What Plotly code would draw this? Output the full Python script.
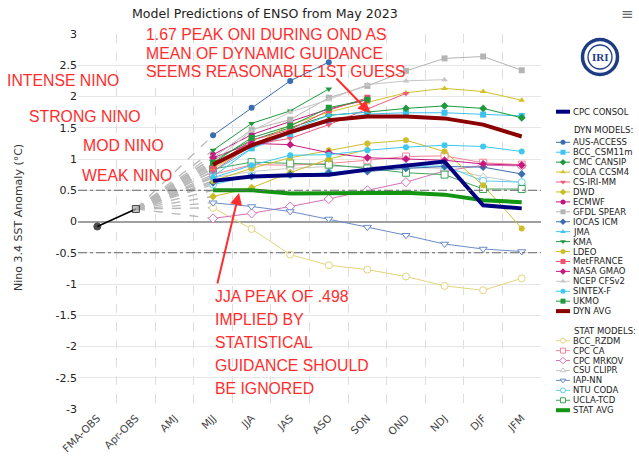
import plotly.graph_objects as go

W, H = 639, 464

# ---------------- data ----------------
categories = ["FMA-OBS", "Apr-OBS", "AMJ", "MJJ", "JJA", "JAS", "ASO", "SON", "OND", "NDJ", "DJF", "JFM"]
fcst_cats = categories[3:]
obs_values = [-0.08, 0.20]
y_ticks = [3, 2.5, 2, 1.5, 1, 0.5, 0, -0.5, -1, -1.5, -2, -2.5, -3]

# dynamical models (MJJ ... JFM)
aus_access = [1.38, 1.82, 2.25, 2.55]
bcc_csm11m = [0.80, 1.17, 1.40, 1.60, 1.72, 1.74, 1.74, 1.71, 1.69]
cmc_cansip = [0.98, 1.30, 1.50, 1.70, 1.75, 1.81, 1.85, 1.81, 1.66]
cola_ccsm4 = [0.85, 1.20, 1.55, 1.75, 1.90, 2.06, 2.13, 2.08, 1.94]
cs_iri_mm = [0.80, 1.23, 1.33, 1.55, 1.80, 2.05]
dwd = [0.40, 0.54, 0.78, 1.00, 1.15]
ecmwf = [1.07, 1.39, 1.60, 1.80, 1.95]
gfdl_spear = [1.02, 1.47, 1.63, 1.98, 2.17, 2.41, 2.61, 2.64, 2.42]
iocas_icm = [0.62, 0.72, 0.75, 0.78, 0.80, 0.85, 0.88, 0.87, 0.76]
jma = [0.72, 1.17, 1.45, 1.70, 1.75]
kma = [1.14, 1.57, 1.77, 2.12]
ldeo = [0.65, 0.85, 1.02, 1.14, 1.25, 1.30, 1.12, 0.58, -0.11]
metfrance = [0.88, 1.30, 1.47, 1.78, 1.98]
nasa_gmao = [1.02, 1.25, 1.23, 1.10, 1.02, 1.00, 0.98, 0.92, 0.90]
ncep_cfsv2 = [0.95, 1.45, 1.75, 1.95, 2.19, 2.25, 2.27]
sintex_f = [0.70, 0.90, 1.06, 1.07, 1.14, 1.19, 1.22, 1.20, 1.12]
ukmo = [0.94, 1.34, 1.53, 1.82, 1.95]
dyn_avg = [0.91, 1.22, 1.43, 1.62, 1.68, 1.68, 1.65, 1.55, 1.36]

# statistical models
bcc_rzdm = [0.22, -0.12, -0.53, -0.70, -0.77, -0.88, -1.03, -1.10, -0.91]
cpc_ca = [0.75, 0.91, 0.90, 0.93, 0.98, 1.04, 1.05, 0.94, 0.91]
cpc_mrkov = [0.05, 0.13, 0.24, 0.36, 0.50, 0.63, 0.81, 0.90, 0.89]
csu_clipr = [0.70, 0.80, 0.85, 0.88, 0.88, 0.86, 0.85, 0.72, 0.62]
iap_nn = [0.30, 0.24, 0.16, 0.04, -0.09, -0.22, -0.36, -0.44, -0.48]
ntu_coda = [0.59, 0.73, 0.75, 0.78, 0.85, 0.88, 0.89, 0.65, 0.63]
ucla_tcd = [0.84, 0.95, 0.93, 0.91, 0.85, 0.78, 0.75, 0.52, 0.52]
stat_avg = [0.50, 0.50, 0.45, 0.45, 0.46, 0.46, 0.43, 0.34, 0.31]

cpc_consol = [0.65, 0.72, 0.74, 0.75, 0.83, 0.90, 0.96, 0.26, 0.21]

# ---------------- styles ----------------
dyn_models = [
    ("AUS-ACCESS", aus_access, "#3A6DB0", "circle"),
    ("BCC_CSM11m", bcc_csm11m, "#3EC2F2", "square"),
    ("CMC CANSIP", cmc_cansip, "#1E9A3C", "diamond"),
    ("COLA CCSM4", cola_ccsm4, "#D2C12C", "triangle-up"),
    ("CS-IRI-MM", cs_iri_mm, "#F5587A", "triangle-down"),
    ("DWD", dwd, "#C9BD25", "diamond"),
    ("ECMWF", ecmwf, "#C2157F", "circle"),
    ("GFDL SPEAR", gfdl_spear, "#B4B4B4", "square"),
    ("IOCAS ICM", iocas_icm, "#3B6EAE", "diamond"),
    ("JMA", jma, "#3CC4F2", "triangle-up"),
    ("KMA", kma, "#1E9A3C", "triangle-down"),
    ("LDEO", ldeo, "#CDBE2A", "circle"),
    ("MetFRANCE", metfrance, "#F2506E", "square"),
    ("NASA GMAO", nasa_gmao, "#C8187F", "diamond"),
    ("NCEP CFSv2", ncep_cfsv2, "#C6C6C6", "triangle-up"),
    ("SINTEX-F", sintex_f, "#3CC8F0", "circle"),
    ("UKMO", ukmo, "#1E9A3C", "square"),
]
stat_models = [
    ("BCC_RZDM", bcc_rzdm, "#E4D47C", "circle"),
    ("CPC CA", cpc_ca, "#F7849A", "square"),
    ("CPC MRKOV", cpc_mrkov, "#D470B8", "diamond"),
    ("CSU CLIPR", csu_clipr, "#C8C8C8", "triangle-up"),
    ("IAP-NN", iap_nn, "#6A8CC8", "triangle-down"),
    ("NTU CODA", ntu_coda, "#58CEF2", "circle"),
    ("UCLA-TCD", ucla_tcd, "#3FA65C", "square"),
]
DYN_AVG_C, STAT_AVG_C, CPC_C = "#8B0000", "#129612", "#00007F"

fig = go.Figure()

# register all categories
fig.add_trace(go.Scatter(x=categories, y=[None] * len(categories), mode="lines",
                         showlegend=False, hoverinfo="skip"))

all_series = [m[1] for m in dyn_models] + [m[1] for m in stat_models] + [dyn_avg, stat_avg, cpc_consol]
for vals in all_series:
    fig.add_trace(go.Scatter(x=[categories[1], fcst_cats[0]], y=[obs_values[1], vals[0]],
                             mode="lines", line=dict(color="#B8B8B8", width=1.3, dash="dash"),
                             showlegend=False, hoverinfo="skip"))

for name, vals, col, sym in stat_models:
    fig.add_trace(go.Scatter(x=fcst_cats[:len(vals)], y=vals, mode="lines+markers", name=name,
                             line=dict(color=col, width=1),
                             marker=dict(symbol=sym, size=7, color="white", line=dict(color=col, width=1)),
                             showlegend=False))
for name, vals, col, sym in dyn_models:
    fig.add_trace(go.Scatter(x=fcst_cats[:len(vals)], y=vals, mode="lines+markers", name=name,
                             line=dict(color=col, width=1),
                             marker=dict(symbol=sym, size=6, color=col),
                             showlegend=False))
fig.add_trace(go.Scatter(x=fcst_cats, y=stat_avg, mode="lines", line=dict(color=STAT_AVG_C, width=4),
                         showlegend=False))
fig.add_trace(go.Scatter(x=fcst_cats, y=dyn_avg, mode="lines", line=dict(color=DYN_AVG_C, width=4),
                         showlegend=False))
fig.add_trace(go.Scatter(x=fcst_cats, y=cpc_consol, mode="lines", line=dict(color=CPC_C, width=4),
                         showlegend=False))
# observations
fig.add_trace(go.Scatter(x=categories[:2], y=obs_values, mode="lines+markers",
                         line=dict(color="black", width=1.5),
                         marker=dict(symbol=["circle", "square"], size=[7, 7], color=["black", "#A8A8A8"]),
                         showlegend=False))

# ---------------- custom legend ----------------
def px(x):
    return x / W

def py(y):
    return 1 - y / H

annotations = []
shapes = []
LEG_X0, LEG_XM, LEG_X1, LEG_TX = 556, 563, 570, 571
legend_font = dict(family="DejaVu Sans", size=8.5, color="#222")

def leg_text(text, y, x=LEG_TX):
    annotations.append(dict(x=px(x), y=py(y), xref="paper", yref="paper", text=text, showarrow=False,
                            xanchor="left", yanchor="middle", font=legend_font))

def leg_item(name, y, col, sym=None, width=1, open_=False):
    if sym is None:
        fig.add_trace(go.Scatter(x=[LEG_X0, LEG_X1], y=[y, y], mode="lines", xaxis="x2", yaxis="y2",
                                 line=dict(color=col, width=width), showlegend=False, hoverinfo="skip"))
    else:
        fig.add_trace(go.Scatter(x=[LEG_X0, LEG_XM, LEG_X1], y=[y, y, y], mode="lines+markers",
                                 xaxis="x2", yaxis="y2", line=dict(color=col, width=width),
                                 marker=dict(symbol=sym, size=5, opacity=[0, 1, 0],
                                             color="white" if open_ else col,
                                             line=dict(color=col, width=1 if open_ else 0)),
                                 showlegend=False, hoverinfo="skip"))
    leg_text(name, y)

leg_item("CPC CONSOL", 111.7, CPC_C, width=4)
leg_text("DYN MODELS:", 130, x=LEG_TX + 1)
step = 9.93
y0 = 142.3
for i, (name, vals, col, sym) in enumerate(dyn_models):
    leg_item(name, y0 + i * step, col, sym)
leg_item("DYN AVG", y0 + len(dyn_models) * step, DYN_AVG_C, width=4)
leg_text("STAT MODELS:", 331, x=LEG_TX + 1)
y0s = 340.7
for i, (name, vals, col, sym) in enumerate(stat_models):
    leg_item(name, y0s + i * step, col, sym, open_=True)
leg_item("STAT AVG", y0s + len(stat_models) * step, STAT_AVG_C, width=4)

# ---------------- annotations ----------------
RED = "#FF2D2D"
red_font = dict(family="Liberation Sans", size=15.8, color=RED)
red_texts = [
    ("1.67 PEAK ONI DURING OND AS", 144, 34),
    ("MEAN OF DYNAMIC GUIDANCE", 144, 53),
    ("SEEMS REASONABLE 1ST GUESS", 144, 72),
    ("INTENSE NINO", 5, 80),
    ("STRONG NINO", 27, 116),
    ("MOD NINO", 81, 145),
    ("WEAK NINO", 80, 175),
    ("JJA PEAK OF .498", 213, 296),
    ("IMPLIED BY", 213, 319),
    ("STATISTICAL", 213, 342),
    ("GUIDANCE SHOULD", 213, 365),
    ("BE IGNORED", 213, 388),
]
for t, x, y in red_texts:
    annotations.append(dict(x=px(x), y=py(y), xref="paper", yref="paper", text=t, showarrow=False,
                            xanchor="left", yanchor="middle", font=red_font))
# arrows
annotations.append(dict(x=px(239), y=py(193), xref="paper", yref="paper", text="", showarrow=True,
                        ax=-22, ay=92, arrowhead=2, arrowsize=1.2, arrowwidth=2, arrowcolor=RED))
annotations.append(dict(x=px(370), y=py(113), xref="paper", yref="paper", text="", showarrow=True,
                        ax=-35, ay=-36, arrowhead=2, arrowsize=1.2, arrowwidth=2, arrowcolor=RED))

# title
annotations.append(dict(x=px(265), y=py(13), xref="paper", yref="paper",
                        text="Model Predictions of ENSO from May 2023", showarrow=False,
                        xanchor="center", yanchor="middle",
                        font=dict(family="DejaVu Sans", size=12.6, color="#222")))
# y axis title
annotations.append(dict(x=px(18), y=py(218), xref="paper", yref="paper",
                        text="Nino 3.4 SST Anomaly (°C)", showarrow=False, textangle=-90,
                        xanchor="center", yanchor="middle",
                        font=dict(family="DejaVu Sans", size=11, color="#333")))
# menu icon
annotations.append(dict(x=px(627), y=py(14), xref="paper", yref="paper", text="≡", showarrow=False,
                        xanchor="center", yanchor="middle", font=dict(family="DejaVu Sans", size=15, color="#666")))
# IRI logo
annotations.append(dict(x=px(600), y=py(57), xref="paper", yref="paper", text="<b>IRI</b>", showarrow=False,
                        xanchor="center", yanchor="middle",
                        font=dict(family="Liberation Serif", size=11, color="#1E3C84")))
shapes.append(dict(type="circle", xref="paper", yref="paper", x0=px(582.5), x1=px(617.5),
                   y0=py(74.5), y1=py(39.5), line=dict(color="#1E3C84", width=3.5)))
shapes.append(dict(type="circle", xref="paper", yref="paper", x0=px(588), x1=px(612),
                   y0=py(69), y1=py(45), line=dict(color="#1E3C84", width=1.3)))

# reference lines at +-0.5
for v in (0.5, -0.5):
    shapes.append(dict(type="line", xref="x domain", yref="y", x0=0, x1=1, y0=v, y1=v,
                       line=dict(color="#666", width=1, dash="dashdot")))

fig.update_layout(
    width=W, height=H,
    margin=dict(l=0, r=0, t=0, b=0, autoexpand=False),
    paper_bgcolor="white", plot_bgcolor="white",
    showlegend=False, hovermode=False,
    annotations=annotations, shapes=shapes,
    xaxis=dict(domain=[78 / W, 541 / W], type="category", categoryorder="array", categoryarray=categories,
               range=[-0.5, 11.5], tickangle=-45, tickson="boundaries", showgrid=True,
               gridcolor="#DDDDDD", griddash="dash", gridwidth=1, ticks="", showline=False,
               automargin=False,
               tickfont=dict(family="DejaVu Sans", size=10.5, color="#444"), zeroline=False),
    yaxis=dict(domain=[1 - 409 / H, 1 - 34 / H], range=[-3, 3], tickvals=y_ticks,
               ticktext=[("%g" % v) for v in y_ticks], showgrid=True, gridcolor="#E6E6E6",
               zeroline=True, zerolinecolor="#A0A0A0", zerolinewidth=2, ticks="",
               automargin=False,
               tickfont=dict(family="DejaVu Sans", size=11, color="#222"), showline=False),
    xaxis2=dict(domain=[550 / W, 1], range=[550, W], visible=False, anchor="y2", fixedrange=True,
                automargin=False),
    yaxis2=dict(domain=[0, 1], range=[H, 0], visible=False, anchor="x2", fixedrange=True,
                automargin=False),
)

fig.write_html("out.html", config={"displayModeBar": False, "staticPlot": True},
               post_script="document.body.style.margin='0';document.body.style.overflow='hidden';")
